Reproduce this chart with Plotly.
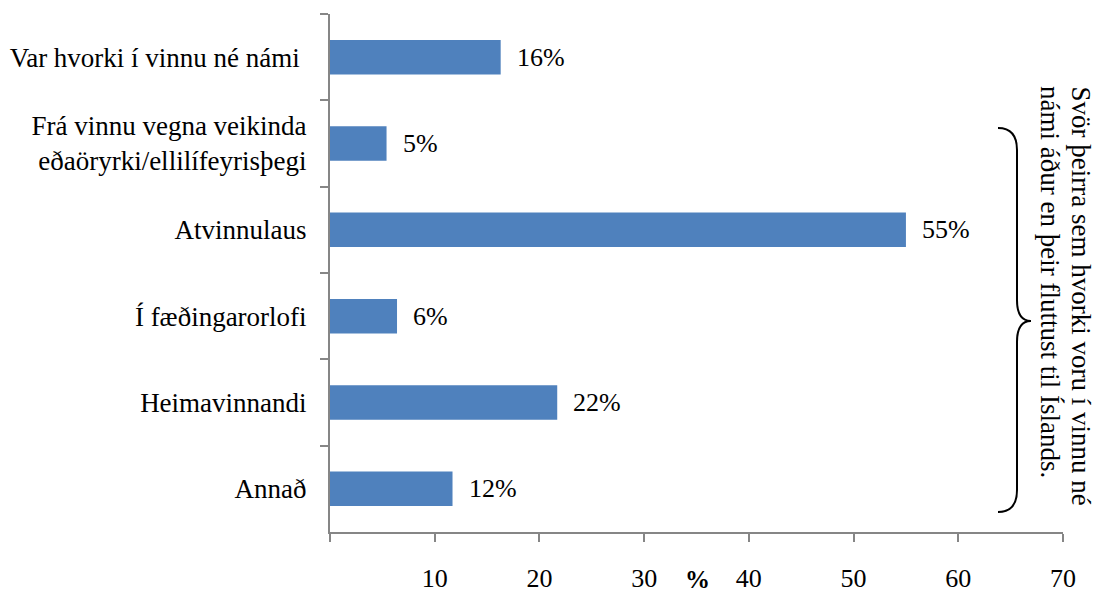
import plotly.graph_objects as go

# Category labels (top to bottom) and shares in percent
categories = [
    "Var hvorki í vinnu né námi ",
    "Frá vinnu vegna veikinda<br>eðaöryrki/ellilífeyrisþegi",
    "Atvinnulaus",
    "Í fæðingarorlofi",
    "Heimavinnandi",
    "Annað",
]
values = [16.3, 5.4, 55.0, 6.4, 21.7, 11.7]
value_labels = ["16%", "5%", "55%", "6%", "22%", "12%"]

x_tickvals = [0, 10, 20, 30, 40, 50, 60, 70]
x_ticktext = ["", "10", "20", "30", "40", "50", "60", "70"]

side_note_lines = [
    "Svör þeirra sem hvorki voru í vinnu né",
    "námi áður en þeir fluttust til Íslands.",
]

W, H = 1101, 596
ML, MR, MT, MB = 330, 38, 14, 64
PW, PH = W - ML - MR, H - MT - MB

FONT = "Liberation Serif"
AXIS_GREY = "#868686"
BAR_BLUE = "#4F81BD"


def px(x):
    return (x - ML) / PW


def py(y):
    return (H - MB - y) / PH


fig = go.Figure()
fig.add_trace(go.Bar(
    x=values,
    y=categories,
    orientation="h",
    marker=dict(color=BAR_BLUE, line=dict(width=0)),
    hoverinfo="skip",
))

# Value labels placed just right of each bar end
for cat, v, lab in zip(categories, values, value_labels):
    fig.add_annotation(
        x=v, y=cat, xref="x", yref="y",
        text=lab, showarrow=False,
        xanchor="left", yanchor="middle", xshift=14,
        font=dict(family=FONT, size=26, color="black"),
    )

# Axis title, sitting at the very bottom edge
fig.add_annotation(
    x=px(697), y=py(H - 1), xref="paper", yref="paper",
    text="<b>%</b>", showarrow=False,
    xanchor="center", yanchor="bottom",
    font=dict(family=FONT, size=25, color="black"),
)

# Right-hand rotated note, one annotation per line
for line, xc in zip(side_note_lines, [1081, 1050]):
    fig.add_annotation(
        x=px(xc), y=py(84), xref="paper", yref="paper",
        text=line, showarrow=False, textangle=90,
        xanchor="center", yanchor="top",
        font=dict(family=FONT, size=27, color="black"),
    )

# Curly brace grouping the categories
pts = [
    ("M", [(998, 128)]),
    ("Q", [(1017, 128), (1017, 150)]),
    ("L", [(1017, 300)]),
    ("Q", [(1017, 321), (1031, 321)]),
    ("Q", [(1017, 321), (1017, 342)]),
    ("L", [(1017, 490)]),
    ("Q", [(1017, 512), (998, 512)]),
]
path = " ".join(
    cmd + " " + " ".join(f"{px(a):.5f},{py(b):.5f}" for a, b in coords)
    for cmd, coords in pts
)
fig.add_shape(type="path", path=path, xref="paper", yref="paper",
              line=dict(color="black", width=2))

fig.update_layout(
    width=W, height=H,
    margin=dict(l=ML, r=MR, t=MT, b=MB),
    paper_bgcolor="white", plot_bgcolor="white",
    showlegend=False,
    bargap=0.6,
    font=dict(family=FONT, size=24, color="black"),
    xaxis=dict(
        range=[0, 70],
        automargin=False,
        tickvals=x_tickvals, ticktext=x_ticktext,
        showgrid=False, zeroline=False,
        showline=True, linecolor=AXIS_GREY, linewidth=2,
        ticks="outside", ticklen=8, tickwidth=2, tickcolor=AXIS_GREY,
        ticklabelstandoff=14,
        tickfont=dict(family=FONT, size=26, color="black"),
    ),
    yaxis=dict(
        autorange="reversed",
        automargin=False,
        showgrid=False, zeroline=False,
        showline=True, linecolor=AXIS_GREY, linewidth=2,
        ticks="outside", ticklen=8, tickwidth=2, tickcolor=AXIS_GREY,
        tickson="boundaries",
        ticklabelstandoff=16,
        tickfont=dict(family=FONT, size=27, color="black"),
    ),
)

fig.write_html("out.html")
